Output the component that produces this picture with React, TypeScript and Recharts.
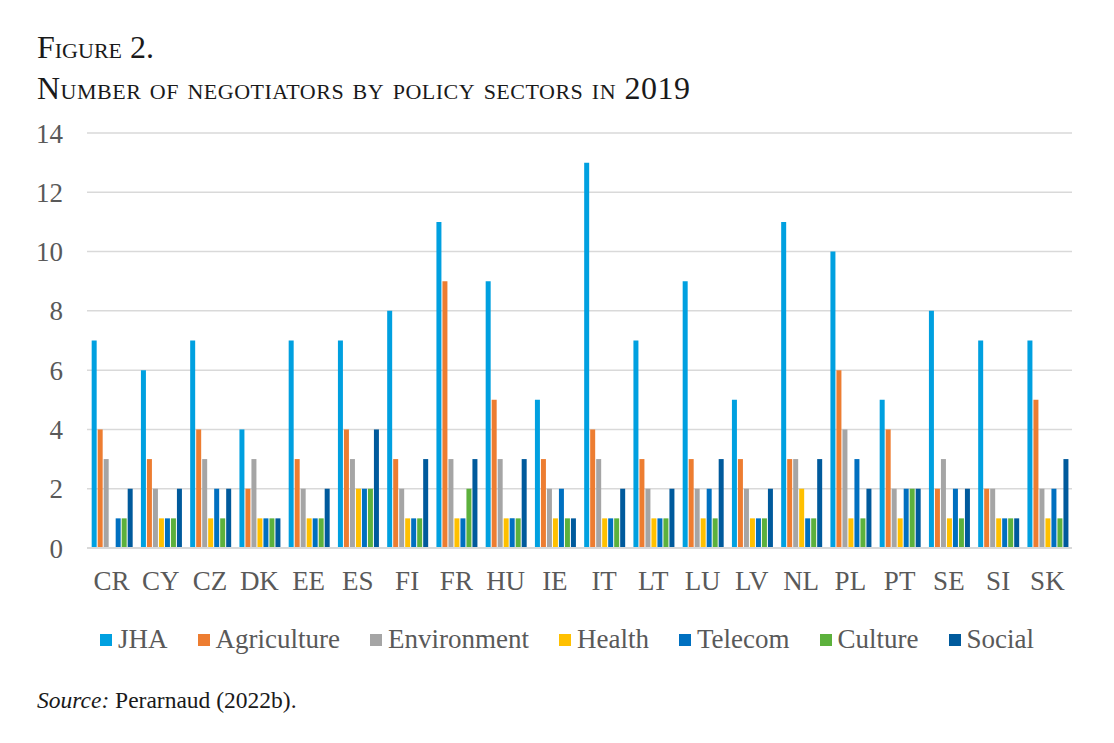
import { BarChart, Bar, XAxis, YAxis, CartesianGrid } from "recharts";

const COUNTRIES = ["CR", "CY", "CZ", "DK", "EE", "ES", "FI", "FR", "HU", "IE", "IT", "LT", "LU", "LV", "NL", "PL", "PT", "SE", "SI", "SK"];
const JHA = [7, 6, 7, 4, 7, 7, 8, 11, 9, 5, 13, 7, 9, 5, 11, 10, 5, 8, 7, 7];
const AGRICULTURE = [4, 3, 4, 2, 3, 4, 3, 9, 5, 3, 4, 3, 3, 3, 3, 6, 4, 2, 2, 5];
const ENVIRONMENT = [3, 2, 3, 3, 2, 3, 2, 3, 3, 2, 3, 2, 2, 2, 3, 4, 2, 3, 2, 2];
const HEALTH = [0, 1, 1, 1, 1, 2, 1, 1, 1, 1, 1, 1, 1, 1, 2, 1, 1, 1, 1, 1];
const TELECOM = [1, 1, 2, 1, 1, 2, 1, 1, 1, 2, 1, 1, 2, 1, 1, 3, 2, 2, 1, 2];
const CULTURE = [1, 1, 1, 1, 1, 2, 1, 2, 1, 1, 1, 1, 1, 1, 1, 1, 2, 1, 1, 1];
const SOCIAL = [2, 2, 2, 1, 2, 4, 3, 3, 3, 1, 2, 2, 3, 2, 3, 2, 2, 2, 1, 3];
const Y_TICKS = [0, 2, 4, 6, 8, 10, 12, 14];

const SERIES = [
  { key: "JHA", values: JHA, color: "#00a0e0" },
  { key: "Agriculture", values: AGRICULTURE, color: "#ed7d31" },
  { key: "Environment", values: ENVIRONMENT, color: "#a5a5a5" },
  { key: "Health", values: HEALTH, color: "#ffc000" },
  { key: "Telecom", values: TELECOM, color: "#0070c0" },
  { key: "Culture", values: CULTURE, color: "#5cb13c" },
  { key: "Social", values: SOCIAL, color: "#005a9c" },
];

const data = COUNTRIES.map((name, i) => {
  const row: Record<string, string | number> = { name };
  SERIES.forEach((s) => (row[s.key] = s.values[i]));
  return row;
});

const serif = "'Liberation Serif', 'Times New Roman', serif";
const tickStyle = { fontFamily: serif, fontSize: 27, fill: "#595959" };

export default function App() {
  return (
    <div style={{ position: "absolute", left: 0, top: 0, width: 1114, height: 743, background: "#fff", fontFamily: serif }}>
      <div style={{ position: "absolute", left: 37, top: 31, fontSize: 32, fontVariant: "small-caps", color: "#1a1a1a", lineHeight: 1 }}>
        Figure 2.
      </div>
      <div style={{ position: "absolute", left: 37, top: 72, fontSize: 32, fontVariant: "small-caps", letterSpacing: 0.5, color: "#1a1a1a", lineHeight: 1, whiteSpace: "nowrap" }}>
        Number of negotiators by policy sectors in 2019
      </div>

      <div style={{ position: "absolute", left: 0, top: 0 }}>
        <BarChart
          width={1114}
          height={600}
          data={data}
          margin={{ top: 133, right: 42, bottom: 12, left: 0 }}
          barCategoryGap="9.5%"
          barGap={1}
        >
          <CartesianGrid vertical={false} stroke="#d9d9d9" strokeWidth={1.5} />
          <XAxis
            dataKey="name"
            height={40}
            tickLine={false}
            tickSize={0}
            tickMargin={23}
            axisLine={{ stroke: "#d9d9d9", strokeWidth: 2 }}
            tick={tickStyle}
            interval={0}
          />
          <YAxis
            width={87}
            domain={[0, 14]}
            ticks={Y_TICKS}
            axisLine={false}
            tickLine={false}
            tickSize={0}
            tickMargin={24}
            tick={tickStyle}
          />
          {SERIES.map((s) => (
            <Bar key={s.key} dataKey={s.key} fill={s.color} isAnimationActive={false} />
          ))}
        </BarChart>
      </div>

      <div style={{ position: "absolute", left: 100, top: 624, display: "flex", alignItems: "center", gap: 30, fontSize: 27, color: "#595959", whiteSpace: "nowrap" }}>
        {SERIES.map((s) => (
          <div key={s.key} style={{ display: "flex", alignItems: "center" }}>
            <span style={{ display: "inline-block", width: 12, height: 12, background: s.color, marginRight: 6 }} />
            <span>{s.key}</span>
          </div>
        ))}
      </div>

      <div style={{ position: "absolute", left: 37, top: 687, fontSize: 23.5, color: "#1a1a1a", whiteSpace: "nowrap" }}>
        <i>Source:</i> Perarnaud (2022b).
      </div>
    </div>
  );
}
